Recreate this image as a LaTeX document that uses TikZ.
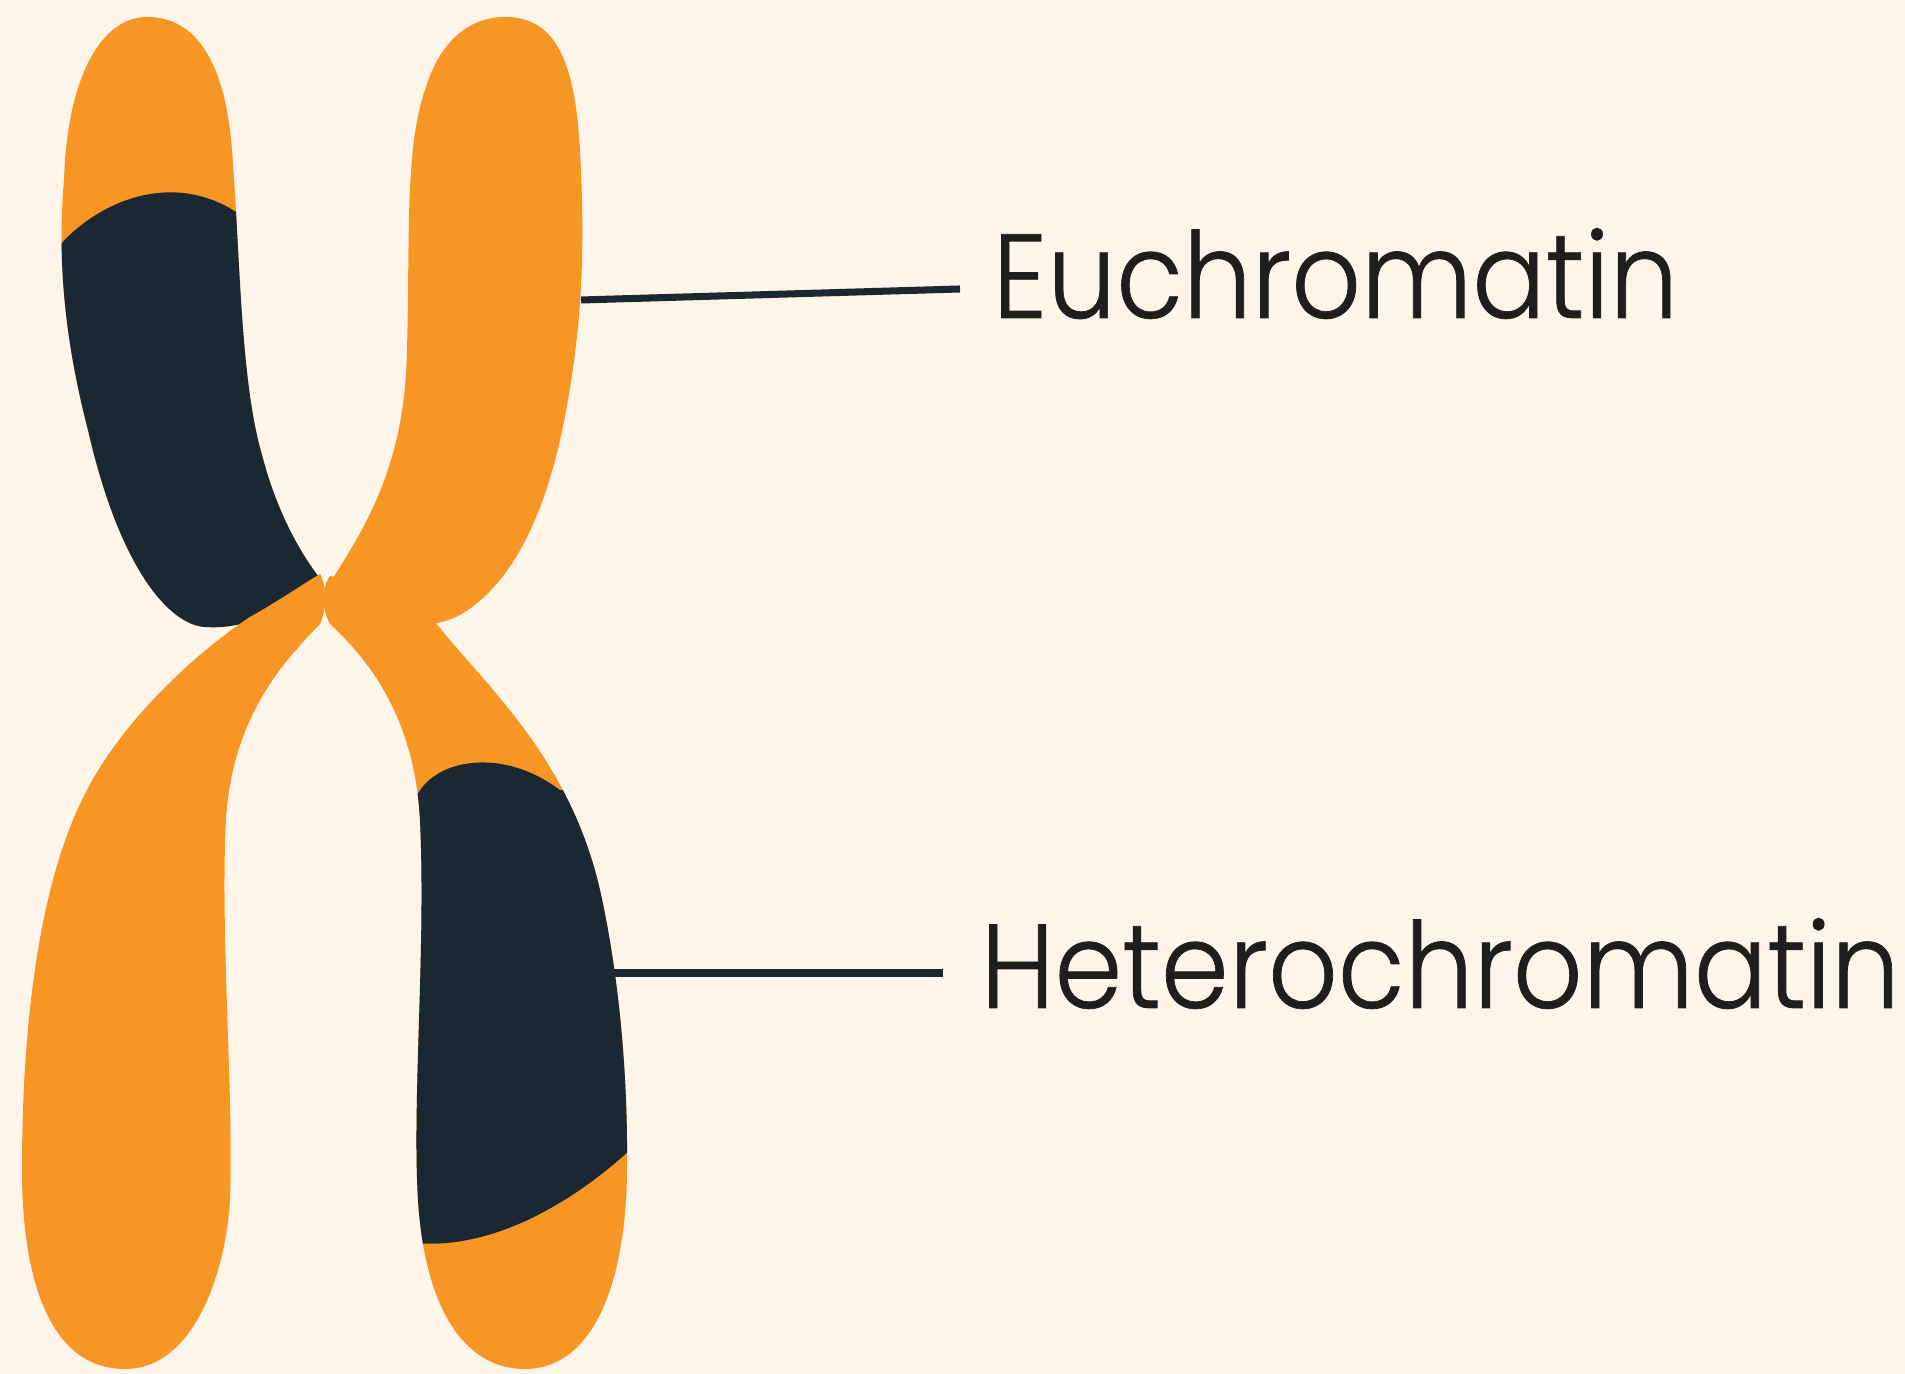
\documentclass[tikz,border=0pt]{standalone}
\usepackage{fontspec}
\newfontfamily\labelfont{Poppins Light}[FakeStretch=0.91, FakeBold=0.6]
\definecolor{armorange}{HTML}{F79624}
\definecolor{bandnavy}{HTML}{1B2831}
\definecolor{paper}{HTML}{FDF5E9}
\definecolor{labelgray}{HTML}{1E1E1E}

% outlines of the four chromosome arms
\def\armUL{(147,17) .. controls (195,17) and (225,60) .. (232,150) .. controls (240,250) and (240,380) .. (262,455)
  .. controls (275,505) and (295,545) .. (318,576) .. controls (290,610) and (245,630) .. (205,627)
  .. controls (170,625) and (120,570) .. (88,430) .. controls (62,330) and (58,250) .. (64,180)
  .. controls (67,80) and (100,17) .. (147,17) -- cycle}
\def\armLL{(320,574) .. controls (328,588) and (326,612) .. (320,624) .. controls (280,665) and (232,720) .. (226,820)
  .. controls (220,930) and (234,1100) .. (230,1200) .. controls (226,1270) and (195,1369) .. (125,1369)
  .. controls (50,1369) and (22,1280) .. (22,1170) .. controls (22,1000) and (45,875) .. (82,800)
  .. controls (120,720) and (200,650) .. (250,617) .. controls (280,600) and (300,586) .. (320,574) -- cycle}
\def\armUR{(505,17) .. controls (555,17) and (575,60) .. (580,150) .. controls (586,260) and (580,330) .. (568,400)
  .. controls (556,470) and (530,570) .. (465,612) .. controls (430,635) and (360,630) .. (333,578)
  .. controls (370,520) and (405,460) .. (407,350) .. controls (410,230) and (405,150) .. (425,90)
  .. controls (440,40) and (470,17) .. (505,17) -- cycle}
\def\armLR{(330,576) .. controls (380,585) and (420,605) .. (440,628) .. controls (490,690) and (570,760) .. (600,890)
  .. controls (620,980) and (628,1080) .. (627,1170) .. controls (626,1290) and (590,1369) .. (525,1369)
  .. controls (465,1369) and (425,1310) .. (418,1200) .. controls (412,1100) and (426,950) .. (420,820)
  .. controls (415,730) and (380,670) .. (330,624) .. controls (322,610) and (321,588) .. (330,576) -- cycle}

\begin{document}
\begin{tikzpicture}[x=0.01cm, y=-0.01cm,
  arm/.style={fill=armorange, draw=none},
  band/.style={fill=bandnavy, draw=none},
  pin/.style={draw=bandnavy, line width=2pt},
  tag/.style={anchor=base west, inner sep=0pt, text=labelgray, font=\labelfont\fontsize{34}{40}\selectfont}]

\fill[paper] (0,0) rectangle (1905,1374);
\useasboundingbox (0,0) rectangle (1905,1374);

% left chromatid
\fill[arm] \armUL;
\begin{scope}
  \clip \armUL;
  \fill[band] (30,250) -- (60,245) .. controls (100,200) and (180,165) .. (250,222) -- (340,260) -- (340,700) -- (30,700) -- cycle;
\end{scope}
\fill[arm] \armLL;

% right chromatid
\fill[arm] \armLR;
\begin{scope}
  \clip \armLR;
  \fill[band] (380,805) -- (415,800) .. controls (430,760) and (500,745) .. (560,790) -- (660,800) -- (660,1130)
    -- (630,1150) .. controls (570,1205) and (490,1250) .. (415,1243) -- (380,1243) -- cycle;
\end{scope}
\fill[arm] \armUR;

% labels
\coordinate (eu-pin) at (581,300);
\coordinate (het-pin) at (614,973);
\node[tag] (eu) at (992,318) {Euchromatin};
\node[tag] (het) at (980,1008) {Heterochromatin};
\draw[pin] (eu-pin) -- ([shift={(-32,-29)}]eu.base west);
\draw[pin] (het-pin) -- ([shift={(-37,-35)}]het.base west);
\end{tikzpicture}
\end{document}
